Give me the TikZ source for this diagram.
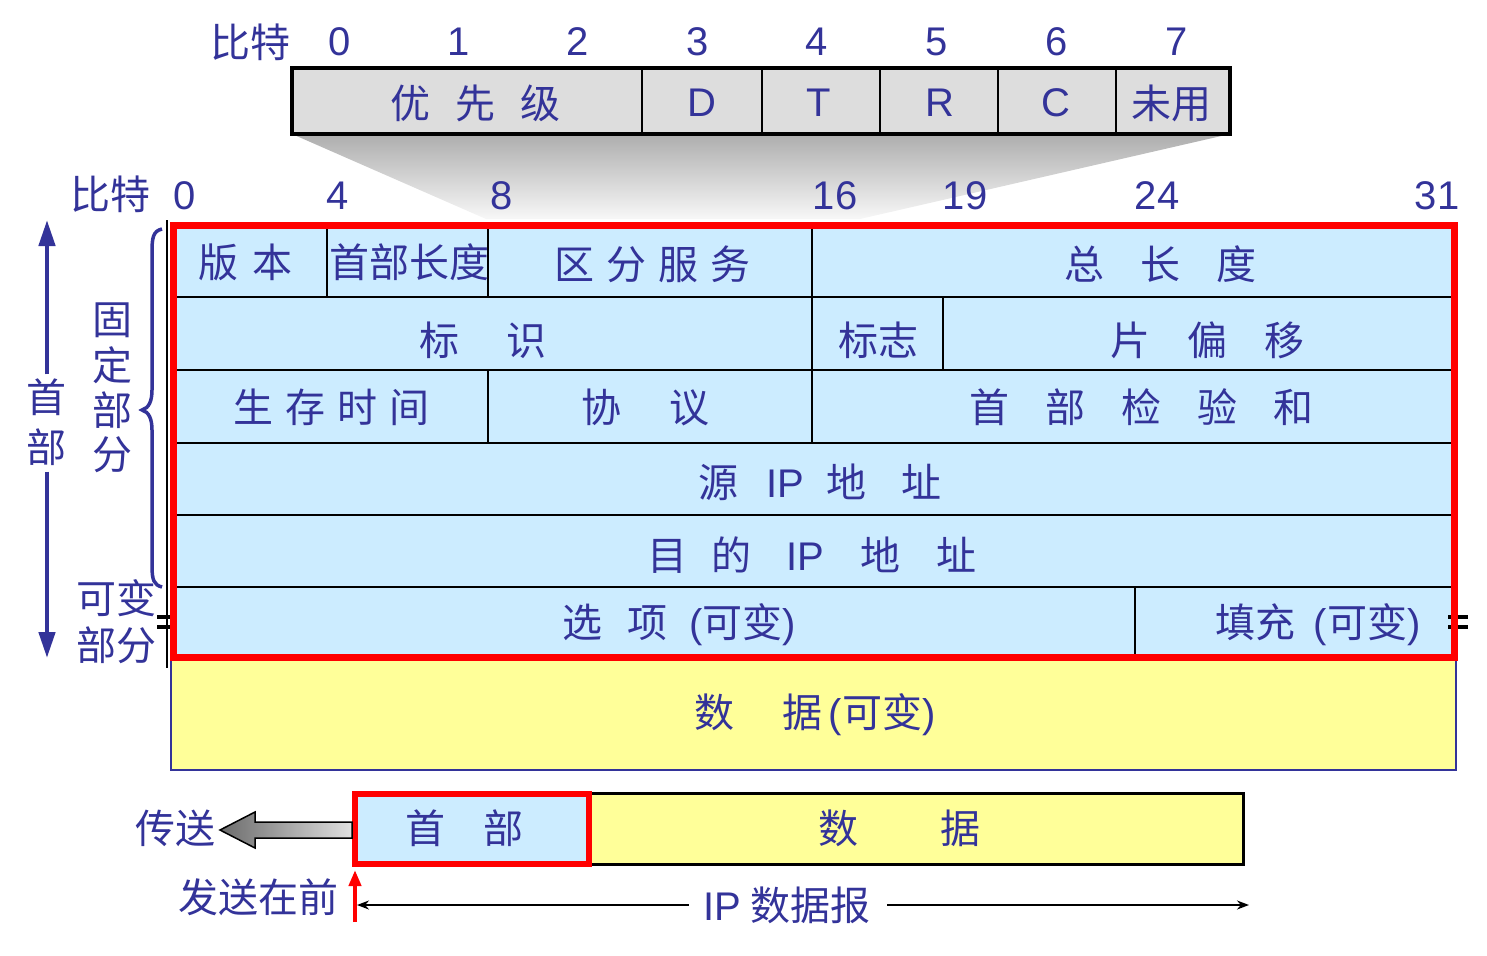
\documentclass[tikz,border=0pt]{standalone}
\usepackage{fontspec}
\setmainfont{Noto Sans CJK SC}
\newfontfamily\latinf{Liberation Sans}
\usetikzlibrary{arrows.meta}
\definecolor{navy}{RGB}{51,51,153}
\definecolor{cellblue}{RGB}{204,236,255}
\definecolor{datayellow}{RGB}{255,255,153}
\definecolor{boxgray}{RGB}{221,221,221}
\newcommand\la[1]{{\latinf #1}}
\newcommand\gp[1]{\hspace{#1pt}}
\tikzset{
  txt/.style={text=navy, font=\fontsize{40}{48}\selectfont, inner sep=0pt, anchor=center},
  num/.style={text=navy, font=\latinf\fontsize{40}{48}\selectfont, inner sep=0pt, anchor=center},
  rowline/.style={black, line width=2.5pt},
  thinline/.style={black, line width=1.8pt},
}
\begin{document}
\begin{tikzpicture}[x=1pt,y=-1pt]
\useasboundingbox (0,0) rectangle (1487,955);
% ---------- top TOS box ----------
\shade[top color=black!32, bottom color=black!3] (292,134) -- (1230,134) -- (860,219) -- (486,219) -- cycle;
\node[txt] (bitA) at (250,42) {比特};
\foreach \v/\x in {0/340,1/459,2/578,3/698,4/817,5/937,6/1057,7/1177}
  \node[num] (tb\v) at (\x,42) {\v};
\fill[boxgray] (292,68) rectangle (1230,134);
\foreach \x in {642,762,880,998,1116} \draw[thinline] (\x,68) -- (\x,134);
\draw[black, line width=4pt] (292,68) rectangle (1230,134);
\node[txt] (prio) at (475,103) {优\gp{25}先\gp{25}级};
\node[num] (tD) at (702,103) {D};
\node[num] (tT) at (819,103) {T};
\node[num] (tR) at (940,103) {R};
\node[num] (tC) at (1056,103) {C};
\node[txt] (tU) at (1171,103) {未用};
% ---------- bit numbers ----------
\node[txt] (bitB) at (110,194) {比特};
\foreach \v/\x in {0/185,4/338,8/502,16/835,19/965,24/1157,31/1437}
  \node[num] (bb\v) at (\x,196) {\v};
% ---------- data box ----------
\draw[navy, line width=2pt, fill=datayellow] (171,658) rectangle (1456,770);
\node[txt] (data) at (815,715) {数\gp{48}据\gp{6}\la{(}可变\la{)}};
% ---------- header table ----------
\fill[cellblue] (172,225) rectangle (1455,658);
\foreach \y in {297,370,443,515,587} \draw[rowline] (172,\y) -- (1455,\y);
\draw[thinline] (327,226) -- (327,297);
\draw[thinline] (488,226) -- (488,297);
\draw[thinline] (812,226) -- (812,443);
\draw[thinline] (943,297) -- (943,370);
\draw[thinline] (488,370) -- (488,443);
\draw[thinline] (1135,587) -- (1135,657);
\draw[black, line width=1.8pt] (167,220) -- (167,668);
% break marks
\foreach \y in {617,627} {
  \draw[black, line width=3.5pt] (157,\y) -- (177,\y);
  \draw[black, line width=3.5pt] (1448,\y) -- (1468,\y);
}
\draw[red, line width=7pt] (173.5,225.5) rectangle (1454.5,657);
% row 1
\node[txt] (ver) at (245,262) {版\gp{14}本};
\node[txt] (ihl) at (409,262) {首部长度};
\node[txt] (ds) at (652,264) {区\gp{12}分\gp{12}服\gp{12}务};
\node[txt] (tl) at (1160,264) {总\gp{36}长\gp{36}度};
% row 2
\node[txt] (idf) at (483,340) {标\gp{47}识};
\node[txt] (flg) at (878,340) {标志};
\node[txt] (fo) at (1207,340) {片\gp{37}偏\gp{37}移};
% row 3
\node[txt] (ttl) at (331,407) {生\gp{12}存\gp{12}时\gp{12}间};
\node[txt] (pro) at (645,407) {协\gp{48}议};
\node[txt] (cks) at (1141,407) {首\gp{36}部\gp{36}检\gp{36}验\gp{36}和};
% row 4
\node[txt] (src) at (820,482) {源\gp{28}\la{IP}\gp{22}地\gp{35}址};
% row 5
\node[txt] (dst) at (812,555) {目\gp{24}的\gp{35}\la{IP}\gp{36}地\gp{36}址};
% row 6
\node[txt] (opt) at (679,625) {选\gp{25}项\gp{22}\la{(}可变\la{)}};
\node[txt] (pad) at (1318,625) {填充\gp{18}\la{(}可变\la{)}};
% ---------- left annotations ----------
\node[txt] (hd1) at (47,397) {首};
\node[txt] (hd2) at (47,447) {部};
\coordinate (hTop) at (47,220);
\coordinate (hBot) at (47,658);
\draw[navy, line width=4.5pt, -{Triangle[length=26pt,width=16pt]}] (hd1.north) ++(0,-4) -- (hTop);
\draw[navy, line width=4.5pt, -{Triangle[length=26pt,width=16pt]}] (hd2.south) ++(0,6) -- (hBot);
\draw[navy, line width=3.5pt] (162,229) .. controls (153,231) and (152,238) .. (152,252) -- (152,390)
  .. controls (152,401) and (149,408) .. (142,410) .. controls (149,412) and (152,419) .. (152,430)
  -- (152,566) .. controls (152,580) and (154,585) .. (162,587);
\node[txt] (fx1) at (112,320) {固};
\node[txt] (fx2) at (112,365) {定};
\node[txt] (fx3) at (112,410) {部};
\node[txt] (fx4) at (112,455) {分};
\node[txt] (var1) at (116,598) {可变};
\node[txt] (var2) at (116,645) {部分};
% ---------- bottom datagram ----------
\draw[black, line width=3pt, fill=datayellow] (590,793) rectangle (1243,864);
\draw[red, line width=6pt, fill=cellblue] (355,794) rectangle (589,864);
\node[txt] (bhd) at (464,828) {首\gp{38}部};
\node[txt] (bdt) at (899,828) {数\gp{82}据};
\shade[left color=black!58, right color=black!12, draw=black, line width=1.5pt]
  (352,822) -- (255,822) -- (255,812) -- (220,830) -- (255,848) -- (255,838) -- (352,838) -- cycle;
\node[txt] (send) at (175,828) {传送};
\node[txt] (first) at (258,897) {发送在前};
\coordinate (rS) at (355,922);
\coordinate (rE) at (355,870);
\draw[red, line width=4pt, -{Triangle[length=16pt,width=12pt]}] (rS) -- (rE);
\node[txt] (ipd) at (787,905) {\la{IP}\gp{10}数据报};
\coordinate (ipL) at (357,905);
\coordinate (ipR) at (1249,905);
\draw[black, line width=1.8pt, -{Stealth[length=12pt,width=9pt]}] (ipd.west) ++(-14,0) -- (ipL);
\draw[black, line width=1.8pt, -{Stealth[length=12pt,width=9pt]}] (ipd.east) ++(16,0) -- (ipR);
\end{tikzpicture}
\end{document}
